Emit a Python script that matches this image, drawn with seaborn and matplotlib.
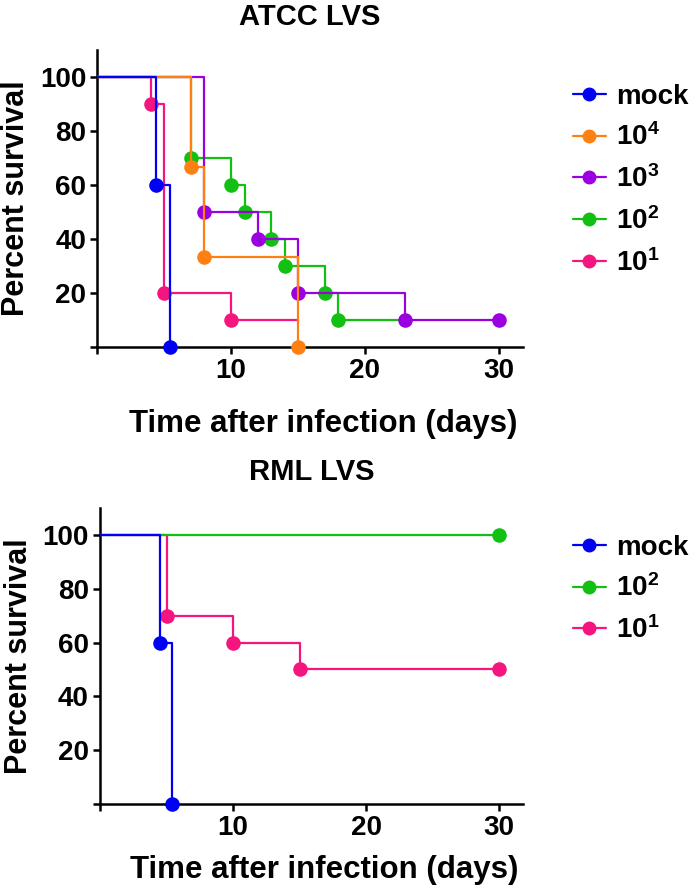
# Kaplan-Meier style survival curves, ATCC LVS vs RML LVS
import matplotlib
matplotlib.use("Agg")
import matplotlib.pyplot as plt
from matplotlib.lines import Line2D
import seaborn as sns

sns.set_style("ticks")
plt.rcParams['font.family'] = ['Liberation Sans', 'DejaVu Sans']
plt.rcParams['font.weight'] = 'bold'
plt.rcParams['mathtext.fontset'] = 'custom'
plt.rcParams['mathtext.bf'] = 'Liberation Sans:bold'
plt.rcParams['mathtext.rm'] = 'Liberation Sans:bold'
plt.rcParams['text.color'] = 'black'
plt.rcParams['axes.labelcolor'] = 'black'
plt.rcParams['xtick.color'] = 'black'
plt.rcParams['ytick.color'] = 'black'

# Data: event times (days) and percent survival after each event
# ATCC LVS
atcc_mock_t = [0, 4.4, 5.4]
atcc_mock_s = [100, 60, 0]
atcc_1e4_t = [0, 7, 8, 15]
atcc_1e4_s = [100, 66.7, 33.3, 0]
atcc_1e3_t = [0, 8, 12, 15, 23, 30]
atcc_1e3_s = [100, 50, 40, 20, 10, 10]
atcc_1e2_t = [0, 7, 10, 11, 13, 14, 17, 18]
atcc_1e2_s = [100, 70, 60, 50, 40, 30, 20, 10]
atcc_1e1_t = [0, 4, 5, 10]
atcc_1e1_s = [100, 90, 20, 10]
# last day each curve is followed
atcc_end = [5.4, 15, 30, 23, 15]

# RML LVS
rml_mock_t = [0, 4.5, 5.4]
rml_mock_s = [100, 60, 0]
rml_1e2_t = [0, 30]
rml_1e2_s = [100, 100]
rml_1e1_t = [0, 5, 10, 15, 30]
rml_1e1_s = [100, 70, 60, 50, 50]
rml_end = [5.4, 30, 30]

atcc_labels = ['mock', r'$\mathbf{10^4}$', r'$\mathbf{10^3}$', r'$\mathbf{10^2}$', r'$\mathbf{10^1}$']
rml_labels = ['mock', r'$\mathbf{10^2}$', r'$\mathbf{10^1}$']

blue = '#0000F5'
orange = '#FF8012'
purple = '#9A00E0'
green = '#12C012'
pink = '#F5157F'


def draw_curves(ax, times, survs, ends, colors):
    # draw in reverse order so that the first series ends up on top
    n = len(times)
    for i in reversed(range(n)):
        t, s, c = times[i], survs[i], colors[i]
        z = 2 + 2 * (n - i)
        line_t = t + [ends[i]]
        line_s = s + [s[-1]]
        sns.lineplot(x=line_t, y=line_s, drawstyle='steps-post', color=c,
                     linewidth=1.6, estimator=None, sort=False, ax=ax, zorder=z)
        sns.scatterplot(x=t[1:], y=s[1:], color=c, s=110, linewidth=0,
                        ax=ax, zorder=z + 1, clip_on=False)


def style_axes(ax, title, title_pad, xlabel_pad):
    ax.set_xlim(0, 31.8)
    ax.set_ylim(0, 110)
    ax.set_xticks([0, 10, 20, 30])
    ax.set_xticklabels(['', '10', '20', '30'])
    ax.set_yticks([0, 20, 40, 60, 80, 100])
    ax.set_yticklabels(['', '20', '40', '60', '80', '100'])
    ax.tick_params(axis='both', labelsize=20, width=1.8, length=5, pad=3)
    for lab in ax.get_xticklabels() + ax.get_yticklabels():
        lab.set_fontweight('bold')
    for sp in ['left', 'bottom']:
        ax.spines[sp].set_linewidth(1.8)
        ax.spines[sp].set_color('black')
    sns.despine(ax=ax)
    ax.set_ylabel('Percent survival', fontsize=22, fontweight='bold', labelpad=6)
    ax.set_xlabel('Time after infection (days)', fontsize=22.5, fontweight='bold',
                  labelpad=xlabel_pad)
    ax.xaxis.label.set_x(0.53)
    ax.set_title(title, fontsize=21, fontweight='bold', pad=title_pad)


def add_legend(ax, labels, colors, y_top):
    handles = [Line2D([], [], color=c, marker='o', linewidth=1.6, markersize=9)
               for c in colors]
    ax.legend(handles, labels, loc='upper left', bbox_to_anchor=(0.818, y_top),
              bbox_transform=fig.transFigure, frameon=False,
              prop={'weight': 'bold', 'size': 20},
              handlelength=1.2, handletextpad=0.35, labelspacing=0.5,
              borderpad=0, borderaxespad=0)


fig = plt.figure(figsize=(7, 8.91), dpi=100)
ax1 = fig.add_axes([0.139, 0.6105, 0.608, 0.3334])
ax2 = fig.add_axes([0.143, 0.0976, 0.604, 0.3323])

atcc_colors = [blue, orange, purple, green, pink]
draw_curves(ax1,
            [atcc_mock_t, atcc_1e4_t, atcc_1e3_t, atcc_1e2_t, atcc_1e1_t],
            [atcc_mock_s, atcc_1e4_s, atcc_1e3_s, atcc_1e2_s, atcc_1e1_s],
            atcc_end, atcc_colors)
style_axes(ax1, 'ATCC LVS', 18, 18)
add_legend(ax1, atcc_labels, atcc_colors, 0.906)

rml_colors = [blue, green, pink]
draw_curves(ax2,
            [rml_mock_t, rml_1e2_t, rml_1e1_t],
            [rml_mock_s, rml_1e2_s, rml_1e1_s],
            rml_end, rml_colors)
style_axes(ax2, 'RML LVS', 20, 10)
add_legend(ax2, rml_labels, rml_colors, 0.400)

fig.savefig('out.png', dpi=100)
